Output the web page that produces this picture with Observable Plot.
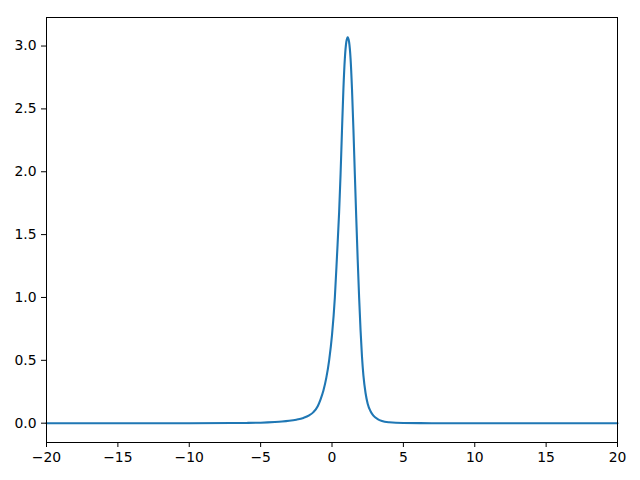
<!DOCTYPE html>
<html><head><meta charset="utf-8">
<script src="https://cdn.jsdelivr.net/npm/d3@7"></script>
<script src="https://cdn.jsdelivr.net/npm/@observablehq/plot@0.6"></script>
<style>html,body{margin:0;padding:0;background:#fff;}</style>
</head><body><div id="chart"></div>
<script>
const xs = [-20, -10, -7, -6, -5, -4.5, -4, -3.5, -3, -2.5, -2, -1.6, -1.3, -1.0, -0.8, -0.6, -0.4, -0.2, 0, 0.2, 0.35, 0.5, 0.6, 0.7, 0.8, 0.9, 1.0, 1.1, 1.2, 1.3, 1.4, 1.5, 1.6, 1.7, 1.8, 1.9, 2.0, 2.1, 2.2, 2.35, 2.5, 2.7, 2.9, 3.2, 3.5, 4, 5, 7, 10, 20];
const ys = [0, 0, 0.001, 0.002, 0.004, 0.006, 0.009, 0.013, 0.019, 0.028, 0.042, 0.062, 0.088, 0.135, 0.19, 0.26, 0.36, 0.50, 0.70, 1.00, 1.33, 1.68, 1.98, 2.33, 2.66, 2.90, 3.03, 3.07, 3.03, 2.90, 2.66, 2.34, 1.98, 1.63, 1.30, 1.00, 0.74, 0.53, 0.38, 0.24, 0.155, 0.095, 0.060, 0.032, 0.017, 0.007, 0.001, 0, 0, 0];
const xTicks = [-20, -15, -10, -5, 0, 5, 10, 15, 20];
const yTicks = [0, 0.5, 1, 1.5, 2, 2.5, 3];

const data = xs.map((x, i) => ({x, y: ys[i]}));
const fmtX = d => d < 0 ? "\u2212" + Math.abs(d) : String(d);
const fmtY = d => d.toFixed(1);
const chart = Plot.plot({
  width: 640, height: 480,
  marginLeft: 46, marginRight: 23, marginTop: 17, marginBottom: 38,
  style: {fontFamily: "'DejaVu Sans', sans-serif", fontSize: "13.9px", background: "#fff", color: "#000"},
  x: {domain: [-20, 20]},
  y: {domain: [-0.1537, 3.227]},
  marks: [
    Plot.line(data, {x: "x", y: "y", stroke: "#1f77b4", strokeWidth: 2.1, curve: "monotone-x"}),
    Plot.frame({stroke: "#000", strokeWidth: 1}),
    Plot.axisX({ticks: xTicks, tickFormat: fmtX, tickSize: 5, tickPadding: 5, label: null}),
    Plot.axisY({ticks: yTicks, tickFormat: fmtY, tickSize: 5, tickPadding: 5, label: null})
  ]
});
document.getElementById("chart").appendChild(chart);
</script></body></html>
